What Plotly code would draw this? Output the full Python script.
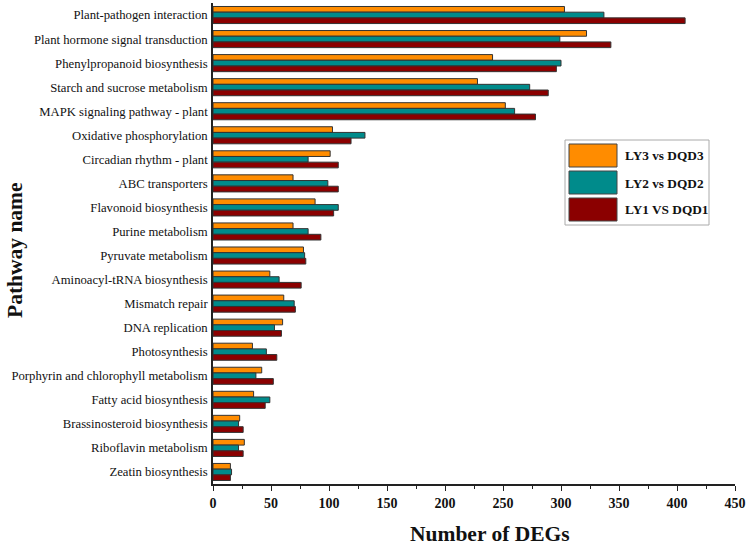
import plotly.graph_objects as go

pathways = [
    "Plant-pathogen interaction", "Plant hormone signal transduction",
    "Phenylpropanoid biosynthesis", "Starch and sucrose metabolism",
    "MAPK signaling pathway - plant", "Oxidative phosphorylation",
    "Circadian rhythm - plant", "ABC transporters", "Flavonoid biosynthesis",
    "Purine metabolism", "Pyruvate metabolism", "Aminoacyl-tRNA biosynthesis",
    "Mismatch repair", "DNA replication", "Photosynthesis",
    "Porphyrin and chlorophyll metabolism", "Fatty acid biosynthesis",
    "Brassinosteroid biosynthesis", "Riboflavin metabolism", "Zeatin biosynthesis",
]
ly3_vs_dqd3 = [303, 322, 241, 228, 252, 103, 101, 69, 88, 69, 78, 49, 61, 60, 34, 42, 35, 23, 27, 15]
ly2_vs_dqd2 = [337, 299, 300, 273, 260, 131, 82, 99, 108, 82, 79, 57, 70, 53, 46, 37, 49, 22, 22, 16]
ly1_vs_dqd1 = [407, 343, 296, 289, 278, 119, 108, 108, 104, 93, 80, 76, 71, 59, 55, 52, 45, 26, 26, 15]

series_names = ["LY3 vs DQD3", "LY2 vs DQD2", "LY1 VS DQD1"]
series_values = [ly3_vs_dqd3, ly2_vs_dqd2, ly1_vs_dqd1]
colors = ["#FF8C00", "#008B8B", "#8B0000"]

x_ticks = [0, 50, 100, 150, 200, 250, 300, 350, 400, 450]

fig = go.Figure()
for name, vals, col in zip(series_names, series_values, colors):
    fig.add_trace(go.Bar(
        y=pathways, x=vals, name=name, orientation="h",
        marker=dict(color=col, line=dict(color="#333333", width=1)),
        showlegend=False,
    ))

fig.update_layout(
    width=749, height=547,
    margin=dict(l=213, r=14, t=3, b=63),
    plot_bgcolor="white", paper_bgcolor="white",
    barmode="group", bargap=0.29, bargroupgap=0,
    font=dict(family="Liberation Serif, Times New Roman, serif", color="#111111"),
)
fig.update_xaxes(
    range=[0, 450], tickvals=x_ticks, ticktext=[str(t) for t in x_ticks],
    showgrid=False, zeroline=False,
    showline=True, linecolor="#222222", linewidth=1.5,
    ticks="outside", ticklen=5, tickwidth=1, tickcolor="#222222",
    minor=dict(dtick=25, ticks="outside", ticklen=3, tickcolor="#222222"),
    tickfont=dict(size=14, family="Liberation Serif", color="#111111", weight="bold"),
)
fig.update_yaxes(
    categoryorder="array", categoryarray=pathways,
    range=[19.5, -0.5],
    showgrid=False, zeroline=False,
    showline=True, linecolor="#222222", linewidth=1.5,
    ticks="", ticklabelstandoff=1,
    tickfont=dict(size=12.7, family="Liberation Serif", color="#111111"),
)

# axis titles
fig.add_annotation(text="<b>Number of DEGs</b>", xref="paper", yref="paper",
                   x=(490 - 213) / 522, y=-(534 - 484) / 481, showarrow=False,
                   font=dict(size=21.5, family="Liberation Serif", color="#111111"),
                   xanchor="center", yanchor="middle")
fig.add_annotation(text="<b>Pathway name</b>", xref="paper", yref="paper",
                   x=-(213 - 15) / 522, y=(484 - 250) / 481, showarrow=False, textangle=-90,
                   font=dict(size=21.5, family="Liberation Serif", color="#111111"),
                   xanchor="center", yanchor="middle")

# custom legend (box + swatches + labels)
def px_x(px):
    return (px - 213) / 522

def px_y(py):
    return (484 - py) / 481

fig.add_shape(type="rect", xref="paper", yref="paper",
              x0=px_x(565), x1=px_x(709), y0=px_y(225), y1=px_y(140),
              line=dict(color="#aaaaaa", width=1), fillcolor="white")
row_tops = [144, 171, 198]
for name, col, top in zip(series_names, colors, row_tops):
    fig.add_shape(type="rect", xref="paper", yref="paper",
                  x0=px_x(569), x1=px_x(617), y0=px_y(top + 23), y1=px_y(top),
                  line=dict(color="#444444", width=1), fillcolor=col)
    fig.add_annotation(text="<b>" + name + "</b>", xref="paper", yref="paper",
                       x=px_x(623), y=px_y(top + 12), showarrow=False,
                       xanchor="left", yanchor="middle",
                       font=dict(size=13.3, family="Liberation Serif", color="#111111"))

fig.write_html("out.html", config={"displayModeBar": False},
               post_script="document.body.style.margin='0px';document.body.style.overflow='hidden';")
